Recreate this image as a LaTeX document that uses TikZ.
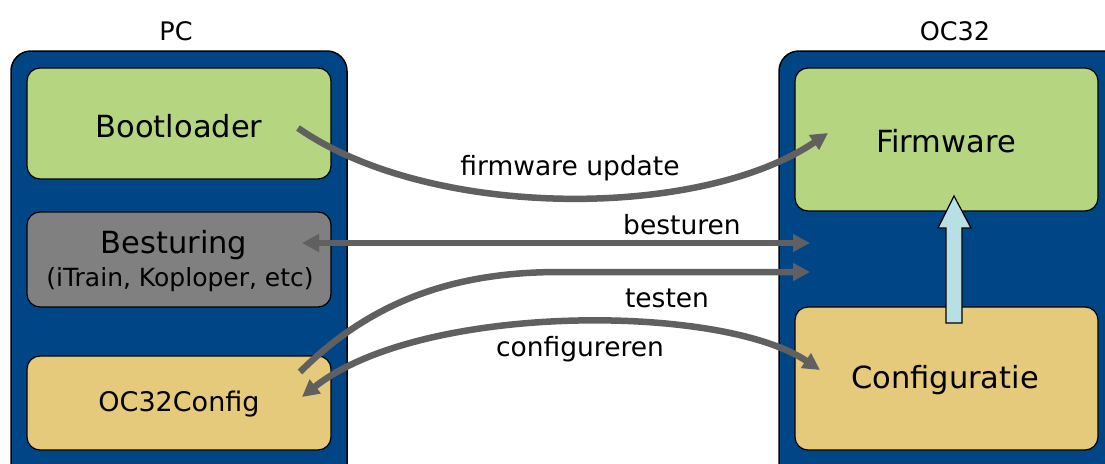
\documentclass[tikz,border=0pt]{standalone}
\usepackage{fontspec}
\setmainfont{DejaVu Sans}
\usetikzlibrary{arrows.meta,calc}
\definecolor{panelblue}{RGB}{0,70,134}
\definecolor{boxgreen}{RGB}{181,213,128}
\definecolor{boxgrey}{RGB}{128,128,128}
\definecolor{boxyellow}{RGB}{229,202,124}
\definecolor{arrowgrey}{RGB}{96,96,96}
\definecolor{upblue}{RGB}{184,223,227}
\begin{document}
\begin{tikzpicture}[x=1pt,y=-1pt,
  panel/.style={draw=black,line width=1.5pt,fill=panelblue,rounded corners=20pt},
  inbox/.style={draw=black,line width=1.2pt,rounded corners=13pt},
  title/.style={font=\fontsize{25.5}{28}\selectfont},
  big/.style={font=\fontsize{30.5}{34}\selectfont},
  lbl/.style={font=\fontsize{26.5}{30}\selectfont},
  conn/.style={draw=arrowgrey,line width=6.5pt,-{Triangle[length=17pt,width=17pt]}},
  conn2/.style={draw=arrowgrey,line width=6.5pt,{Triangle[length=17pt,width=17pt]}-{Triangle[length=17pt,width=17pt]}}]
\useasboundingbox (0,0) rectangle (1105,463);
% panels
\draw[panel] (11,51) rectangle (347,490);
\draw[panel] (779,51) rectangle (1130,490);
\node[title] (pc) at (176,31) {PC};
\node[title] (oc) at (955,31) {OC32};
% left boxes
\draw[inbox,fill=boxgreen] (27,68) rectangle (331,179);
\draw[inbox,fill=boxgrey] (27,212) rectangle (331,307);
\draw[inbox,fill=boxyellow] (27,356) rectangle (331,450);
\node[big] (boot) at (179,126) {Bootloader};
\node[big] (best) at (174,245) {Besturing};
\node[font=\fontsize{25}{28}\selectfont] (bestsub) at (180,280) {(iTrain, Koploper, etc)};
\node[font=\fontsize{27}{30}\selectfont] (cfgpc) at (179,404) {OC32Config};
% right boxes
\draw[inbox,fill=boxgreen] (795,68) rectangle (1098,211);
\draw[inbox,fill=boxyellow] (795,307) rectangle (1098,450);
\node[big] (fw) at (946,141) {Firmware};
\node[big] (cfg) at (945,380) {Configuratie};
% endpoints
\coordinate (bootout) at (298,128);
\coordinate (fwin) at (828,133);
\coordinate (bestin) at (302,243);
\coordinate (ocA) at (810,243);
\coordinate (testout) at (300,372);
\coordinate (ocB) at (810,272);
\coordinate (cfgpcin) at (302,397);
\coordinate (cfgin) at (820,370);
% connectors
\draw[conn] (bootout) .. controls (430,220) and (700,220) .. (fwin);
\node[lbl] (lfw) at (570,168) {firmware update};
\draw[conn2] (bestin) -- (ocA);
\node[lbl] (lbest) at (682,225) {besturen};
\draw[conn] (testout) .. controls (380,292) and (470,272) .. (560,272) -- (ocB);
\node[lbl] (ltest) at (667,298) {testen};
\draw[conn2] (cfgpcin) .. controls (420,303) and (720,303) .. (cfgin);
\node[lbl] (lcfg) at (580,349) {configureren};
% up arrow
\draw[draw=black,line width=1.2pt,fill=upblue] (946,323) -- (946,228) -- (938,228) -- (954,196) -- (971,228) -- (962,228) -- (962,323) -- cycle;
\end{tikzpicture}
\end{document}
